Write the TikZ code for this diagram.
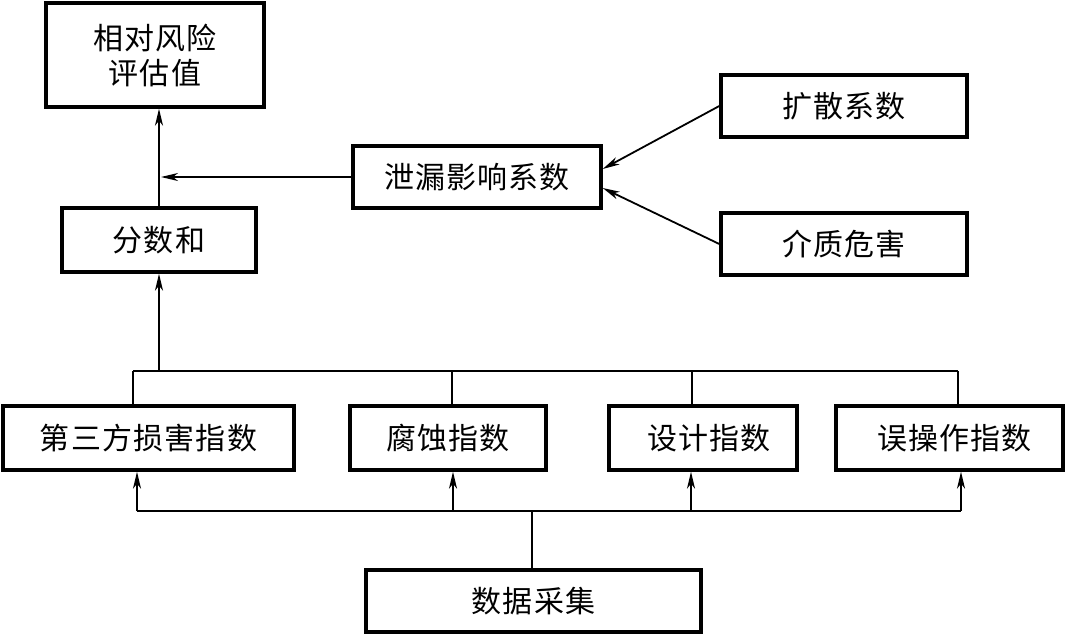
\documentclass[tikz,border=0pt]{standalone}
\usepackage{fontspec}
\newfontfamily\cjk[LetterSpace=4]{Noto Sans CJK SC}
\usetikzlibrary{arrows.meta}
\tikzset{
  box/.style={draw, line width=3.4pt, rectangle, inner sep=0pt, align=center,
    font=\cjk\fontsize{30}{35}\selectfont},
  conn/.style={line width=1.8pt},
  arr/.style={conn, -{Stealth[length=17pt,width=8pt,inset=5pt]}}
}
\begin{document}
\begin{tikzpicture}[x=1pt,y=-1pt]
\useasboundingbox (0,0) rectangle (1067,634);
\node[box, minimum width=218pt, minimum height=104pt] (r) at (155,55) {相对风险\\评估值};
\node[box, minimum width=194pt, minimum height=64pt] (s) at (159,240) {分数和};
\node[box, minimum width=248pt, minimum height=62pt] (l) at (477,177) {泄漏影响系数};
\node[box, minimum width=246pt, minimum height=62pt] (k) at (844,106) {扩散系数};
\node[box, minimum width=246pt, minimum height=62pt] (m) at (844,244) {介质危害};
\node[box, minimum width=291pt, minimum height=64pt] (a) at (148.5,438) {第三方损害指数};
\node[box, minimum width=196pt, minimum height=64pt] (b) at (448,438) {腐蚀指数};
\node[box, minimum width=188pt, minimum height=64pt] (c) at (703,438) {\hspace*{12pt}设计指数};
\node[box, minimum width=227pt, minimum height=64pt] (d) at (949.5,438) {\hspace*{10pt}误操作指数};
\node[box, minimum width=335pt, minimum height=62pt] (e) at (533.5,601) {数据采集};
% upper links
\draw[arr] (s.north) -- (s.north |- r.south);
\draw[arr, shorten >=2pt] (l.west) -- (l.west -| s.north);
\draw[arr] (k.west) -- ([yshift=8pt]l.east);
\draw[arr] (m.west) -- ([yshift=-11pt]l.east);
% top bus
\coordinate (t1) at (133,371);
\coordinate (t2) at (452,371);
\coordinate (t3) at (692,371);
\coordinate (t4) at (958,371);
\draw[conn] (t1) -- (t4);
\draw[conn] (t1) -- (t1 |- a.north);
\draw[conn] (t2) -- (t2 |- b.north);
\draw[conn] (t3) -- (t3 |- c.north);
\draw[conn] (t4) -- (t4 |- d.north);
\draw[arr] (s.south |- t1) -- (s.south);
% bottom bus
\coordinate (u1) at (137,511);
\coordinate (u2) at (453,511);
\coordinate (u3) at (691,511);
\coordinate (u4) at (961,511);
\coordinate (u0) at (532,511);
\draw[conn] (u1) -- (u4);
\draw[conn] (u0 |- e.north) -- (u0);
\draw[arr] (u1) -- (u1 |- a.south);
\draw[arr] (u2) -- (u2 |- b.south);
\draw[arr] (u3) -- (u3 |- c.south);
\draw[arr] (u4) -- (u4 |- d.south);
\end{tikzpicture}
\end{document}
